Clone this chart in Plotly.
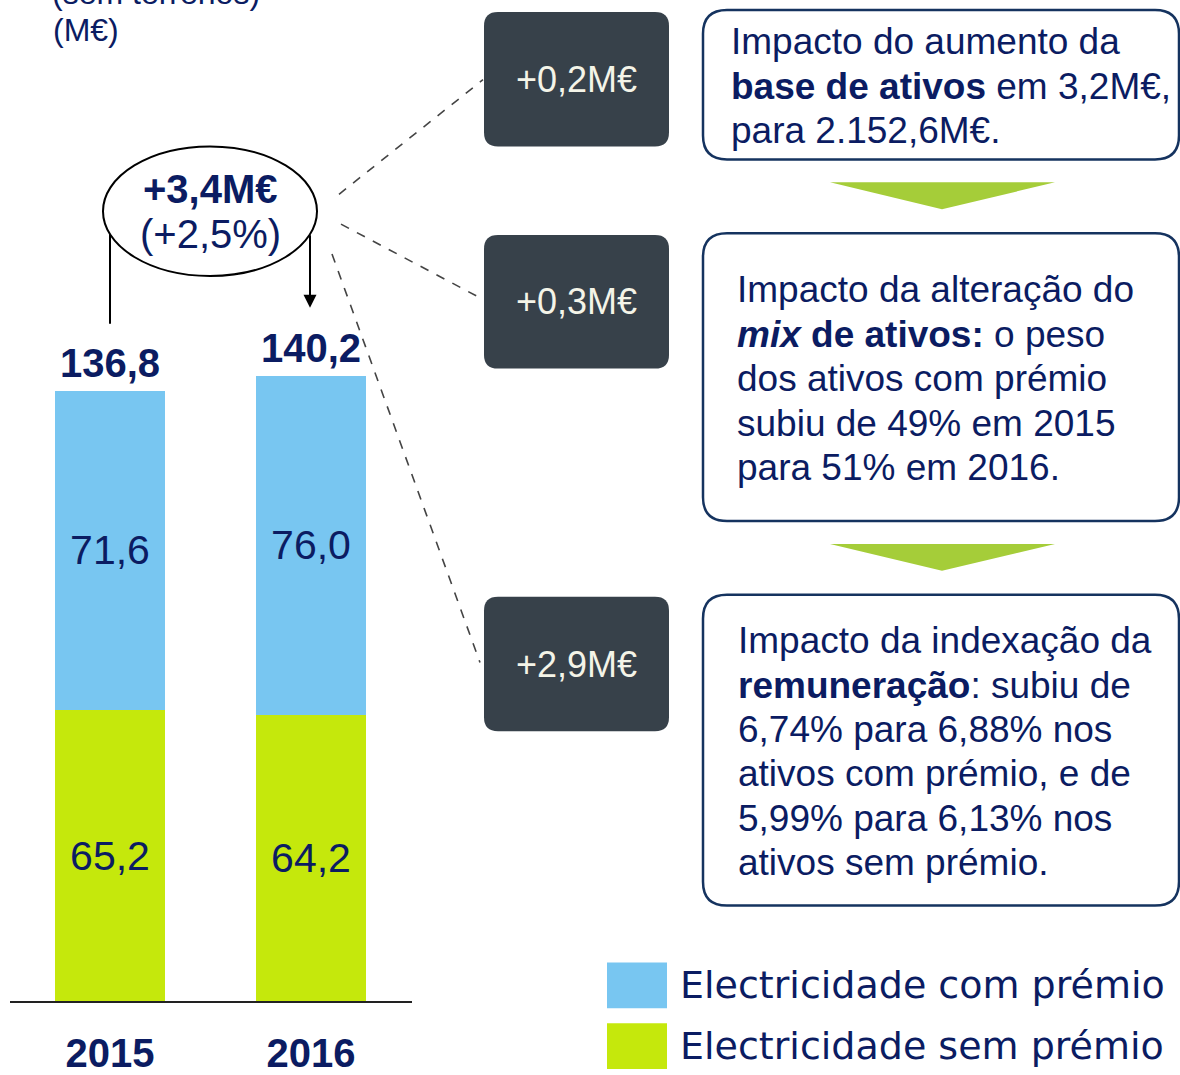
import plotly.graph_objects as go

# ---- data ----
years = ["2015", "2016"]
sem_premio = [65.2, 64.2]
com_premio = [71.6, 76.0]
variation_abs = "+3,4M€"
variation_pct = "(+2,5%)"
impacts = ["+0,2M€", "+0,3M€", "+2,9M€"]
box1_lines = ["Impacto do aumento da",
              "<b>base de ativos</b> em 3,2M€,",
              "para 2.152,6M€."]
box2_lines = ["Impacto da alteração do",
              "<b><i>mix</i> de ativos:</b> o peso",
              "dos ativos com prémio",
              "subiu de 49% em 2015",
              "para 51% em 2016."]
box3_lines = ["Impacto da indexação da",
              "<b>remuneração</b>: subiu de",
              "6,74% para 6,88% nos",
              "ativos com prémio, e de",
              "5,99% para 6,13% nos",
              "ativos sem prémio."]
legend_names = ["Electricidade com prémio", "Electricidade sem prémio"]

W, H = 1180, 1075
NAVY = "#0b1c62"
BLUE = "#78c6f1"
GREEN = "#c5e80c"
DARK = "#37414a"
BORDER = "#15335f"
FONT = "Liberation Sans, Arial, sans-serif"


def px(x):
    return x / W


def py(y):
    return 1 - y / H


def fmt(v):
    return f"{v:.1f}".replace(".", ",")


def rrect(x0, y0, x1, y1, r):
    pts = [
        f"M {px(x0 + r)} {py(y0)}",
        f"L {px(x1 - r)} {py(y0)}",
        f"Q {px(x1)} {py(y0)} {px(x1)} {py(y0 + r)}",
        f"L {px(x1)} {py(y1 - r)}",
        f"Q {px(x1)} {py(y1)} {px(x1 - r)} {py(y1)}",
        f"L {px(x0 + r)} {py(y1)}",
        f"Q {px(x0)} {py(y1)} {px(x0)} {py(y1 - r)}",
        f"L {px(x0)} {py(y0 + r)}",
        f"Q {px(x0)} {py(y0)} {px(x0 + r)} {py(y0)}",
        "Z",
    ]
    return " ".join(pts)


fig = go.Figure()
fig.add_trace(go.Bar(
    x=years, y=sem_premio, name=legend_names[1], marker_color=GREEN,
    marker_line_width=0, width=0.552,
    text=[fmt(v) for v in sem_premio], textposition="inside",
    insidetextanchor="middle", textangle=0,
    textfont=dict(family=FONT, size=41, color=NAVY), showlegend=False))
fig.add_trace(go.Bar(
    x=years, y=com_premio, name=legend_names[0], marker_color=BLUE,
    marker_line_width=0, width=0.552,
    text=[fmt(v) for v in com_premio], textposition="inside",
    insidetextanchor="middle", textangle=0,
    textfont=dict(family=FONT, size=41, color=NAVY), showlegend=False))

shapes = []
ann = []

# totals
for i, (a, b) in enumerate(zip(sem_premio, com_premio)):
    ann.append(dict(x=i, y=a + b, xref="x", yref="y", text=f"<b>{fmt(a + b)}</b>",
                    showarrow=False, xanchor="center", yanchor="middle", yshift=28,
                    font=dict(family=FONT, size=40, color=NAVY)))

# title (partially cut at the top)
ann.append(dict(x=px(50), y=py(-7), xref="paper", yref="paper", text="(sem terrenos)",
                showarrow=False, xanchor="left", yanchor="middle",
                font=dict(family=FONT, size=32, color=NAVY)))
ann.append(dict(x=px(51), y=py(30), xref="paper", yref="paper", text="(M€)",
                showarrow=False, xanchor="left", yanchor="middle",
                font=dict(family=FONT, size=32, color=NAVY)))

# ellipse with variation
shapes.append(dict(type="line", xref="paper", yref="paper", x0=px(110), y0=py(232),
                   x1=px(110), y1=py(325), line=dict(color="black", width=2)))
shapes.append(dict(type="circle", xref="paper", yref="paper", x0=px(103), x1=px(317),
                   y0=py(147), y1=py(277), line=dict(color="black", width=2),
                   fillcolor="white"))
ann.append(dict(x=px(310), y=py(309), xref="paper", yref="paper", text="",
                showarrow=True, ax=0, ay=-74, arrowhead=2, arrowsize=1.3,
                arrowwidth=2, arrowcolor="black"))
ann.append(dict(x=px(210), y=py(190), xref="paper", yref="paper",
                text=f"<b>{variation_abs}</b>", showarrow=False,
                xanchor="center", yanchor="middle",
                font=dict(family=FONT, size=40, color=NAVY)))
ann.append(dict(x=px(210), y=py(235), xref="paper", yref="paper",
                text=variation_pct, showarrow=False,
                xanchor="center", yanchor="middle",
                font=dict(family=FONT, size=40, color=NAVY)))

# dashed connectors
for (x0, y0, x1, y1) in [(339, 195, 483, 80), (341, 225, 482, 300), (332, 255, 480, 665)]:
    shapes.append(dict(type="line", xref="paper", yref="paper", x0=px(x0), y0=py(y0),
                       x1=px(x1), y1=py(y1),
                       line=dict(color="#444444", width=1.6, dash="dash")))

# dark impact boxes
dark_boxes = [(484, 12, 669, 147), (484, 236, 669, 370), (484, 599, 669, 734)]
for (x0, y0, x1, y1), txt in zip(dark_boxes, impacts):
    shapes.append(dict(type="path", xref="paper", yref="paper",
                       path=rrect(x0, y0, x1, y1, 14), fillcolor=DARK, line=dict(width=0)))
    ann.append(dict(x=px((x0 + x1) / 2), y=py((y0 + y1) / 2), xref="paper", yref="paper",
                    text=txt, showarrow=False, xanchor="center", yanchor="middle",
                    font=dict(family=FONT, size=36, color="#f4f4e8")))

# explanation boxes
text_boxes = [((703, 10, 1179, 160), box1_lines, 729, 42),
              ((703, 234, 1179, 523), box2_lines, 735, 291),
              ((703, 597, 1179, 909), box3_lines, 736, 643)]
for (x0, y0, x1, y1), lines, tx, ty in text_boxes:
    shapes.append(dict(type="path", xref="paper", yref="paper",
                       path=rrect(x0, y0, x1, y1, 24), fillcolor="white",
                       line=dict(color=BORDER, width=2.5)))
    for i, line in enumerate(lines):
        ann.append(dict(x=px(tx), y=py(ty + i * 44.6), xref="paper", yref="paper",
                        text=line, showarrow=False, xanchor="left", yanchor="middle",
                        font=dict(family=FONT, size=37, color=NAVY)))

# green down-triangles
for ytop in [183, 546]:
    path = (f"M {px(830)} {py(ytop)} L {px(1055)} {py(ytop)} "
            f"L {px(942)} {py(ytop + 27)} Z")
    shapes.append(dict(type="path", xref="paper", yref="paper", path=path,
                       fillcolor="#a5cd39", line=dict(width=0)))

# legend
for (y0, y1), col, name in [((966, 1012), BLUE, legend_names[0]),
                            ((1027, 1073), GREEN, legend_names[1])]:
    shapes.append(dict(type="rect", xref="paper", yref="paper", x0=px(607), x1=px(667),
                       y0=py(y0), y1=py(y1), fillcolor=col, line=dict(width=0)))
    ann.append(dict(x=px(678), y=py((y0 + y1) / 2), xref="paper", yref="paper",
                    text=name, showarrow=False, xanchor="left", yanchor="middle",
                    font=dict(family="DejaVu Sans, Verdana, sans-serif", size=38, color=NAVY)))

# initial size leaves room for the default 8px body margin; the post script
# removes that margin and restores the full 1180x1075 size
fig.update_layout(
    width=W - 22, height=H - 22, margin=dict(l=0, r=0, t=0, b=0),
    paper_bgcolor="white", plot_bgcolor="white",
    barmode="stack", showlegend=False,
    xaxis=dict(domain=[9.5 / W, 411.5 / W], type="category", range=[-0.5, 1.5],
               showline=True, linecolor="#222222", linewidth=2, showgrid=False,
               zeroline=False, ticks="", ticklabelstandoff=16,
               tickvals=years, ticktext=[f"<b>{y}</b>" for y in years],
               tickfont=dict(family=FONT, size=40, color=NAVY)),
    yaxis=dict(domain=[70 / H, 1 - 109 / H], range=[0, 200], visible=False),
    shapes=shapes, annotations=ann,
)

fig.write_html(
    "out.html",
    config={"responsive": False, "displayModeBar": False},
    post_script=(
        "var de=document.documentElement, b=document.body;"
        "de.style.margin='0'; de.style.overflow='hidden';"
        f"de.style.height='{H}px'; b.style.height='{H}px';"
        "b.style.margin='0'; b.style.overflow='hidden'; b.style.lineHeight='0';"
        "var gd=document.getElementById('{plot_id}');"
        "gd.style.display='block';"
        "var sc=gd.querySelector('.svg-container'); if(sc){sc.style.display='block';}"
        f"Plotly.relayout(gd, {{width: {W}, height: {H}}}).then(function(){{"
        "var s=gd.querySelector('.svg-container'); if(s){s.style.display='block';}});"
    ),
)
